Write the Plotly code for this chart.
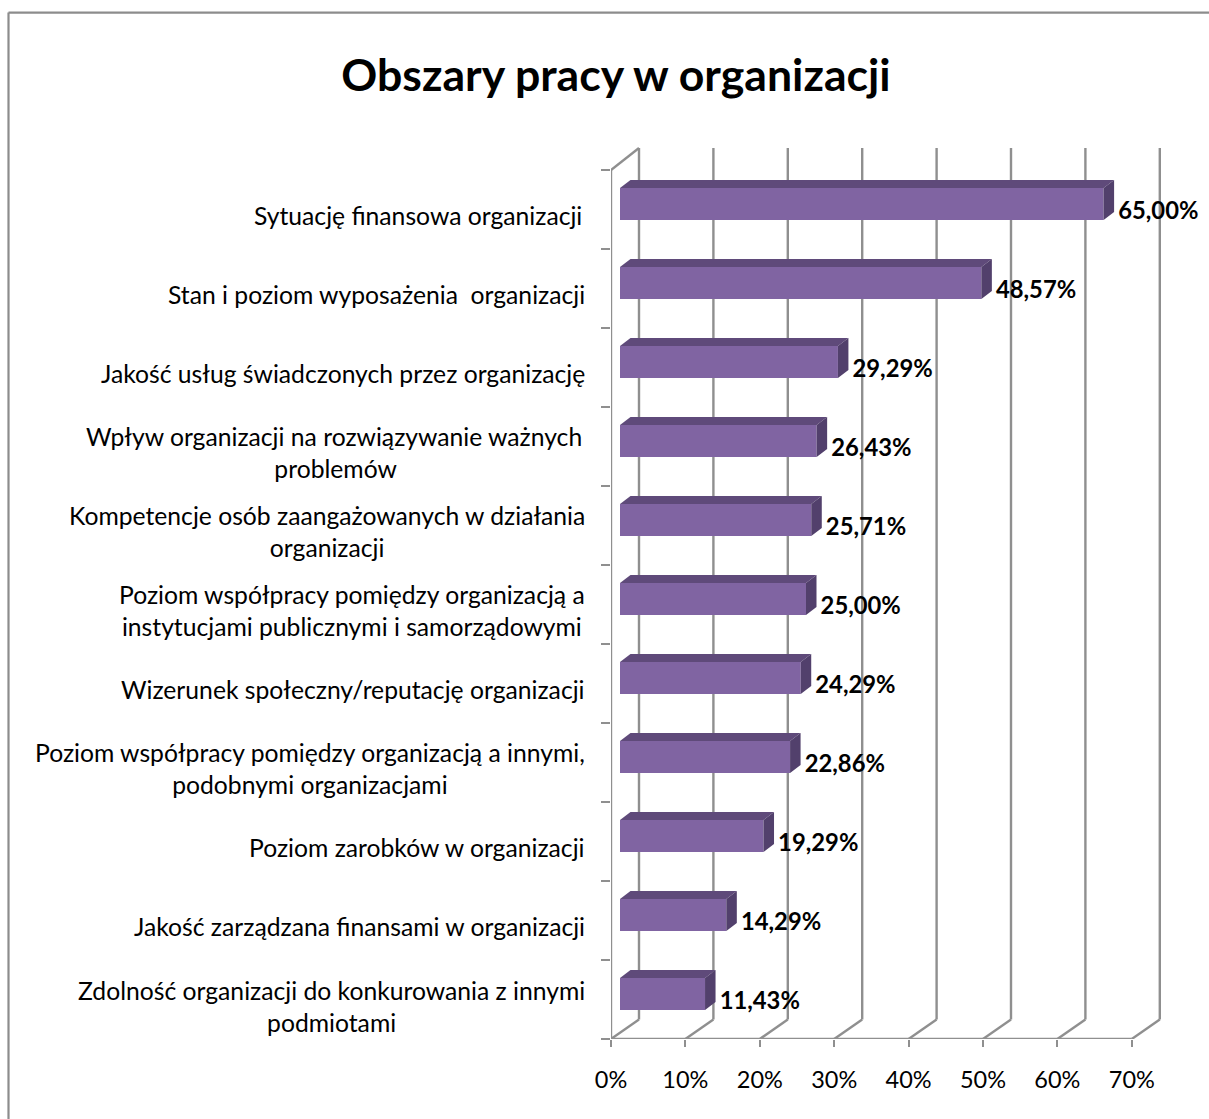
import plotly.graph_objects as go

categories = [
    "Sytuację finansowa organizacji\u2009",
    "Stan i poziom wyposażenia  organizacji",
    "Jakość usług świadczonych przez organizację",
    "Wpływ organizacji na rozwiązywanie ważnych\u2009<br>problemów",
    "Kompetencje osób zaangażowanych w działania<br>organizacji",
    "Poziom współpracy pomiędzy organizacją a<br>instytucjami publicznymi i samorządowymi",
    "Wizerunek społeczny/reputację organizacji",
    "Poziom współpracy pomiędzy organizacją a innymi,<br>podobnymi organizacjami",
    "Poziom zarobków w organizacji",
    "Jakość zarządzana finansami w organizacji",
    "Zdolność organizacji do konkurowania z innymi<br>podmiotami",
]
values = [65.00, 48.57, 29.29, 26.43, 25.71, 25.00, 24.29, 22.86, 19.29, 14.29, 11.43]
x_ticks = [0, 10, 20, 30, 40, 50, 60, 70]

W, H = 1209, 1119
L, R, T, B = 611.0, 1165.0, 146.0, 1039.3
PX = 7.44       # pixels per percentage point
PY = 79.03      # pixels per category
GRID = "#8f8f8f"
FONT = "Lato, Carlito, Calibri, sans-serif"
FRONT, TOP, SIDE = "#8064A2", "#5F4A7A", "#52406C"

x_max = (R - L) / PX
y_max = (B - T) / PY
n = len(categories)
pos = [n - 0.5 - i for i in range(n)]

wall_dx = 28 / PX
wall_dy_bottom = 19.5 / PY
wall_dy_top = 22 / PY
bar_gap = 9 / PX
bar_dx = 10.5 / PX
bar_dy = 8 / PY
bar_h = 32 / PY
bar_shift = 5.5 / PY
y_front = [p + bar_shift for p in pos]

fig = go.Figure()

shapes = []
def seg(x0, y0, x1, y1, w=2.4, c=GRID, layer="below"):
    shapes.append(dict(type="line", xref="x", yref="y", x0=x0, y0=y0, x1=x1, y1=y1,
                       line=dict(color=c, width=w), layer=layer))

for t in x_ticks:
    seg(t, 0, t + wall_dx, wall_dy_bottom)
    seg(t + wall_dx, wall_dy_bottom, t + wall_dx, n + wall_dy_top)
seg(0, 0, x_ticks[-1], 0)
seg(0, 0, 0, n)
seg(0, n, wall_dx, n + wall_dy_top)

# outer frame (top and left edges only), in fractions of the plot area
pw, ph = R - L, B - T
for x0, y0, x1, y1 in ((8.5, 12.5, W + 5, 12.5), (8.5, 12.5, 8.5, H + 5)):
    shapes.append(dict(type="line", xref="paper", yref="paper",
                       x0=(x0 - L) / pw, x1=(x1 - L) / pw,
                       y0=(B - y0) / ph, y1=(B - y1) / ph,
                       line=dict(color="#8c8c8c", width=2.2), layer="below"))

fig.add_trace(go.Bar(y=y_front, x=values, base=bar_gap, orientation="h", width=bar_h,
                     marker=dict(color=FRONT, line=dict(width=0)), showlegend=False))

tx, ty, sx, sy = [], [], [], []
for v, y in zip(values, y_front):
    xl, xr = bar_gap, bar_gap + v
    yb, yt = y - bar_h / 2, y + bar_h / 2
    tx += [xl, xl + bar_dx, xr + bar_dx, xr, xl, None]
    ty += [yt, yt + bar_dy, yt + bar_dy, yt, yt, None]
    sx += [xr, xr + bar_dx, xr + bar_dx, xr, xr, None]
    sy += [yt, yt + bar_dy, yb + bar_dy, yb, yt, None]
for xs, ys, col in ((tx, ty, TOP), (sx, sy, SIDE)):
    fig.add_trace(go.Scatter(x=xs, y=ys, mode="lines", fill="toself", fillcolor=col,
                             line=dict(width=0, color=col), hoverinfo="skip", showlegend=False))

fig.add_trace(go.Scatter(
    x=[v + bar_gap + bar_dx + 0.55 for v in values],
    y=[y - 9.5 / PY for y in y_front],
    mode="text",
    text=[f"{v:.2f}%".replace(".", ",") for v in values],
    textposition="middle right",
    textfont=dict(family=FONT, size=23.8, color="#000000", weight="bold"),
    cliponaxis=False,
    showlegend=False))

annotations = [dict(text=c, xref="paper", yref="y", x=(587 - L) / pw, y=p - 6.5 / PY,
                    xanchor="right", yanchor="middle", align="center", showarrow=False,
                    font=dict(family=FONT, size=24.7, color="#000000"))
               for c, p in zip(categories, pos)]

fig.update_layout(
    width=W, height=H, autosize=False,
    margin=dict(l=L, r=W - R, t=T, b=H - B, pad=0),
    paper_bgcolor="#ffffff", plot_bgcolor="rgba(0,0,0,0)",
    title=dict(text="<b>Obszary pracy w organizacji</b>", x=616 / W, xanchor="center",
               y=1 - 75 / H, yanchor="middle",
               font=dict(family=FONT, size=44.6, color="#000000")),
    xaxis=dict(range=[0, x_max], tickvals=x_ticks, ticktext=[f"{t}%" for t in x_ticks],
               showgrid=False, zeroline=False, showline=False,
               ticks="outside", ticklen=7, tickwidth=2, tickcolor=GRID, ticklabelstandoff=13,
               tickfont=dict(family=FONT, size=23.5, color="#000000")),
    yaxis=dict(range=[0, y_max], tickvals=list(range(n + 1)), showticklabels=False,
               showgrid=False, zeroline=False, showline=False,
               ticks="outside", ticklen=9, tickwidth=2, tickcolor=GRID),
    shapes=shapes, annotations=annotations,
)

fig.write_html("out.html", config={"displayModeBar": False},
               post_script="document.body.style.margin='0';document.body.style.overflow='hidden';")
